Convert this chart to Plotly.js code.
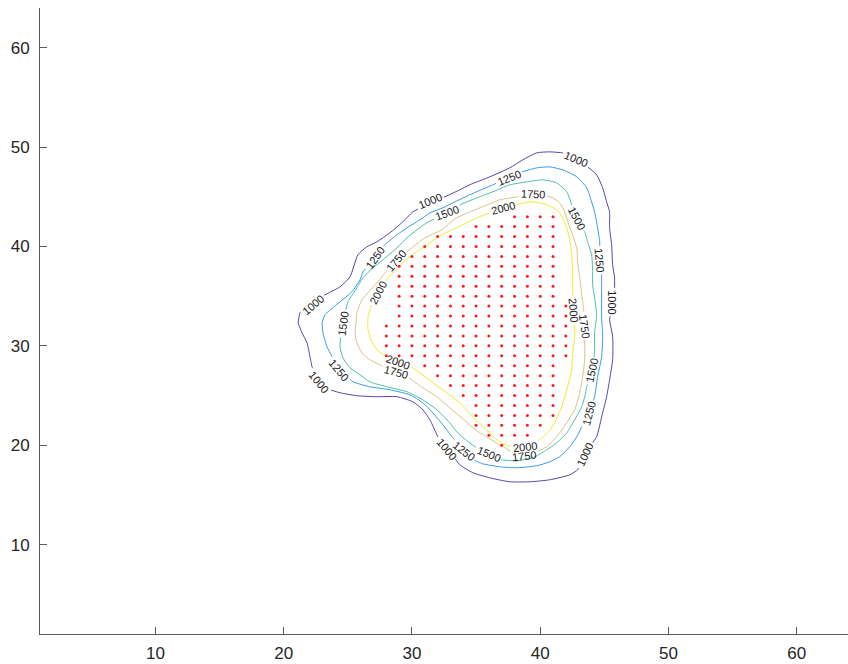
<!DOCTYPE html>
<html><head><meta charset="utf-8">
<script src="https://cdn.plot.ly/plotly-3.0.1.min.js"></script>
<style>html,body{margin:0;padding:0;background:#fff}</style>
</head><body><div id="chart" style="width:848px;height:664px"></div>
<script>
// contour levels and their colours (parula)
const levels = [1000, 1250, 1500, 1750, 2000];
const levelColors = ['#5544ad', '#3a9ae4', '#48c2a8', '#dcc286', '#f2ec2c'];

// contour polylines (closed)
const c1000x = [21.12,21.27,22.05,23.22,24.39,25.17,25.79,26.49,27.27,28.28,29.29,30.07,31.40,32.41,33.73,34.51,36.07,37.63,38.64,39.73,40.74,41.76,42.77,43.70,44.40,44.87,45.18,45.41,45.41,45.57,45.65,45.80,45.80,45.65,45.41,45.65,45.65,45.41,45.18,44.87,44.40,43.47,42.92,42.30,40.74,39.18,37.63,36.07,34.75,33.73,32.72,32.02,31.40,30.85,30.07,28.83,27.27,25.71,24.39,23.61,22.75,22.21,22.05,21.82,21.43];
const c1000y = [32.32,33.33,34.43,35.14,35.94,36.95,39.16,39.97,40.47,41.37,42.48,43.48,44.39,44.90,45.70,46.21,47.01,47.91,48.72,49.42,49.52,49.42,48.82,48.01,47.21,45.90,44.49,43.48,41.88,40.17,38.15,36.85,35.44,34.43,32.62,30.91,28.60,26.58,24.88,23.26,20.85,19.04,17.53,17.02,16.52,16.32,16.32,16.72,17.23,18.03,19.64,20.85,22.56,23.57,24.37,24.88,24.88,24.98,25.28,25.58,26.38,27.89,28.90,30.31,31.31];

const c1250x = [22.99,23.22,24.39,25.32,25.95,26.18,27.11,27.89,28.52,29.61,30.62,31.40,32.41,33.35,34.51,36.30,37.55,38.56,39.73,40.74,41.76,42.85,43.63,44.01,44.24,44.48,44.64,44.64,44.79,44.79,44.79,44.79,44.87,44.79,44.48,44.24,43.78,43.24,42.85,42.30,41.52,40.74,39.73,38.17,36.85,35.52,34.75,34.05,33.19,32.41,31.63,30.85,29.84,28.28,26.72,25.40,24.31,23.61,23.38,23.06];
const c1250y = [32.32,33.12,34.43,35.44,36.64,37.45,38.86,40.17,40.87,41.88,42.68,43.38,43.89,44.49,45.20,46.20,46.91,47.51,47.91,48.01,47.71,47.01,45.90,44.49,43.48,41.88,40.47,38.66,37.15,35.84,34.43,32.92,30.91,28.90,26.89,24.87,23.16,21.86,20.85,19.84,18.84,18.33,17.93,17.73,17.83,18.13,18.54,19.44,20.75,22.06,23.26,24.27,25.07,25.58,25.88,26.38,27.59,29.30,29.90,31.31];

const c1500x = [24.62,24.78,25.01,25.71,26.18,26.96,27.74,28.83,29.61,30.38,31.16,32.72,33.73,35.06,36.30,37.63,38.95,40.20,41.29,42.07,42.85,43.47,43.70,44.01,44.09,44.09,44.24,44.40,44.24,44.24,44.01,43.63,43.47,43.24,42.69,42.07,41.29,40.51,39.42,38.17,36.85,35.99,35.14,34.28,33.50,32.95,31.94,30.85,29.61,28.05,26.72,25.95,25.17,24.62,24.39,24.47];
const c1500y = [32.22,33.32,34.43,35.84,36.85,37.85,38.66,39.86,40.87,41.67,42.38,43.38,44.19,44.89,45.50,46.20,46.50,46.70,46.40,45.50,42.88,41.47,40.47,39.16,37.45,36.14,34.83,33.12,31.31,29.30,27.49,25.88,24.87,23.87,22.56,21.25,20.25,19.54,18.74,18.43,18.54,19.14,19.64,20.45,21.35,22.26,23.57,24.57,25.38,25.88,26.38,27.09,27.79,28.80,29.90,31.11];

const c1750x = [25.63,25.71,26.10,26.72,27.66,28.75,29.99,31.01,32.33,33.35,34.51,35.68,36.85,38.17,39.42,40.51,40.98,41.52,41.91,42.15,42.53,42.85,42.92,43.08,43.24,43.39,43.47,43.47,43.47,43.31,43.08,42.69,42.07,41.29,40.51,39.57,38.72,37.78,36.85,36.07,35.06,33.97,32.95,31.94,30.85,30.07,29.61,28.75,27.50,26.72,26.10,25.71,25.56];
const c1750y = [32.12,33.32,34.63,35.54,36.95,38.56,39.86,40.87,41.67,42.78,43.48,44.09,44.69,44.99,45.30,45.10,44.89,44.39,43.48,42.48,41.17,39.86,38.45,36.85,35.13,33.63,32.02,30.61,28.60,26.89,25.28,23.57,22.26,20.85,19.84,19.24,18.94,19.34,20.04,20.65,21.45,22.66,23.77,24.87,25.78,26.48,26.99,27.39,28.09,28.60,29.30,30.31,31.31];

const c2000x = [26.57,26.57,26.80,27.35,28.05,28.83,29.45,30.46,31.40,32.18,33.11,33.97,35.06,36.07,37.08,38.41,39.19,39.96,40.51,41.29,41.76,42.07,42.30,42.46,42.53,42.53,42.61,42.69,42.69,42.53,42.46,42.07,41.68,41.13,40.59,39.96,38.80,37.47,36.62,35.84,34.75,33.73,32.72,31.63,30.62,29.84,28.91,27.89,27.27,26.80];
const c2000y = [31.61,32.82,33.93,35.34,36.74,37.75,38.56,39.56,40.37,41.07,41.67,42.18,42.88,43.38,43.89,44.29,44.49,44.39,44.19,43.69,42.88,41.88,40.67,39.16,37.45,35.44,33.63,32.32,30.91,29.30,27.59,25.58,23.87,22.26,21.25,20.55,19.84,19.94,20.55,21.55,22.86,24.27,25.28,26.28,27.29,27.99,28.39,29.00,29.60,30.61];

// contour labels
const labLevel = [1000,1000,1000,1000,1000,1000,1000, 1250,1250,1250,1250,1250,1250, 1500,1500,1500,1500,1500, 1750,1750,1750,1750,1750, 2000,2000,2000,2000,2000];
const labX = [22.28,31.40,42.77,45.65,43.47,32.72,22.75, 27.11,37.55,44.64,43.78,34.05,24.31, 24.62,32.72,42.85,44.01,35.99, 28.75,39.42,43.47,38.72,28.75, 27.35,37.08,42.61,38.80,28.91];
const labY = [34.13,44.59,48.82,34.43,19.04,19.64,26.38, 38.86,46.91,38.66,23.16,19.44,27.59, 32.22,43.38,42.88,27.49,19.14, 38.56,45.30,32.02,18.94,27.39, 35.34,43.89,33.63,19.84,28.39];
const labAngle = [-40,-22,22,90,-65,50,50, -55,-22,85,-75,38,50, -82,-20,62,-78,22, -50,3,82,-6,15, -62,-15,85,-6,20];

// red sample points: for each row y, first and last x of the integer grid
const dotRowY     = [43,42,41,40,39,38,37,36,35,34,33,32,31,30,29,28,27,26,25,24,23,22,21,20];
const dotRowFirst = [38,35,32,31,30,29,29,29,29,29,29,28,28,28,28,31,32,33,34,35,35,35,36,37];
const dotRowLast  = [41,41,41,41,41,41,41,41,41,42,42,42,42,42,42,41,41,41,41,41,41,40,39,37];

const xTicks = [10,20,30,40,50,60];
const yTicks = [10,20,30,40,50,60];
const xRange = [1,64], yRange = [1,64];

// ---- layout geometry ----
const W = 848, H = 664, M = {l:40, r:0, t:8, b:30};
const SX = (W - M.l - M.r) / (xRange[1] - xRange[0]);
const SY = (H - M.t - M.b) / (yRange[1] - yRange[0]);
const LAB_FONT = 11;

function labelBoxes(level){
  const out = [];
  for (let i = 0; i < labLevel.length; i++) {
    if (labLevel[i] !== level) continue;
    const txt = String(level);
    out.push({x: labX[i], y: labY[i], a: labAngle[i] * Math.PI / 180,
              hw: txt.length * LAB_FONT * 0.556 / 2 + 2, hh: 6});
  }
  return out;
}
function inside(x, y, boxes){
  for (const b of boxes) {
    const dx = (x - b.x) * SX, dy = -(y - b.y) * SY;
    const u = dx * Math.cos(b.a) + dy * Math.sin(b.a);
    const v = -dx * Math.sin(b.a) + dy * Math.cos(b.a);
    if (Math.abs(u) < b.hw && Math.abs(v) < b.hh) return true;
  }
  return false;
}
function cutClosed(xs, ys, boxes){
  const n = Math.min(xs.length, ys.length);
  const X = [], Y = [];
  for (let i = 0; i <= n; i++) {
    const x = xs[i % n], y = ys[i % n];
    if (i === 0) { if (!inside(x, y, boxes)) { X.push(x); Y.push(y); } continue; }
    const x0 = xs[i - 1], y0 = ys[i - 1];
    const len = Math.hypot((x - x0) * SX, (y - y0) * SY);
    const steps = Math.max(2, Math.ceil(len / 0.4));
    let st = inside(x0, y0, boxes);
    for (let k = 1; k <= steps; k++) {
      const t = k / steps, px = x0 + (x - x0) * t, py = y0 + (y - y0) * t;
      const s = inside(px, py, boxes);
      if (s !== st) {
        X.push(px); Y.push(py);
        if (s) { X.push(null); Y.push(null); }
        st = s;
      }
    }
    if (!st) { X.push(x); Y.push(y); }
  }
  return {X, Y};
}

const contourData = {1000:[c1000x,c1000y],1250:[c1250x,c1250y],1500:[c1500x,c1500y],1750:[c1750x,c1750y],2000:[c2000x,c2000y]};
const traces = [];
levels.forEach((lv, i) => {
  const [cx, cy] = contourData[lv];
  const r = cutClosed(cx, cy, labelBoxes(lv));
  traces.push({type:'scatter', mode:'lines', x:r.X, y:r.Y, connectgaps:false,
    line:{color:levelColors[i], width:1, shape:'spline', smoothing:0.6}, hoverinfo:'skip', showlegend:false});
});

const dx = [], dy = [];
dotRowY.forEach((yv, i) => { for (let xv = dotRowFirst[i]; xv <= dotRowLast[i]; xv++) { dx.push(xv); dy.push(yv); } });
traces.push({type:'scatter', mode:'markers', x:dx, y:dy,
  marker:{color:'#ff1a1a', size:3, line:{width:0}}, hoverinfo:'skip', showlegend:false});

const annotations = labLevel.map((lv, i) => ({
  x: labX[i], y: labY[i], xref:'x', yref:'y', text: String(lv), showarrow:false,
  textangle: labAngle[i], xanchor:'center', yanchor:'middle',
  font:{family:'Liberation Sans, Arial, Helvetica, sans-serif', size:LAB_FONT, color:'#1a1a1a'}
}));

const axisCommon = {
  showgrid:false, zeroline:false, showline:true, linecolor:'#595959', linewidth:1,
  ticks:'inside', ticklen:7, tickwidth:1, tickcolor:'#595959', mirror:false,
  tickfont:{family:'Liberation Sans, Arial, Helvetica, sans-serif', size:17, color:'#262626'},
  fixedrange:true
};
const layout = {
  width:W, height:H, margin:M, paper_bgcolor:'#ffffff', plot_bgcolor:'#ffffff',
  xaxis: Object.assign({}, axisCommon, {range:xRange, tickmode:'array', tickvals:xTicks, ticktext:xTicks.map(String), ticklabelstandoff:4}),
  yaxis: Object.assign({}, axisCommon, {range:yRange, tickmode:'array', tickvals:yTicks, ticktext:yTicks.map(String), ticklabelstandoff:6}),
  annotations: annotations,
  showlegend:false
};
Plotly.newPlot('chart', traces, layout, {staticPlot:true, displayModeBar:false});
</script>
</body></html>
